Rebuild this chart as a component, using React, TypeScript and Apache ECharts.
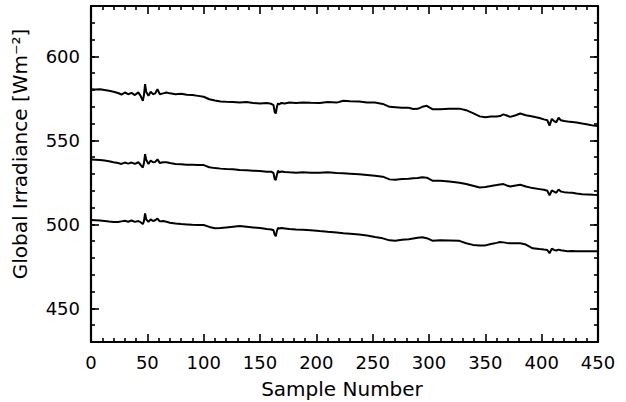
import React, { useEffect, useRef } from "react";
import * as echarts from "echarts";

const samples = [
  0, 4, 8, 12, 16, 20, 24, 27, 30, 33,
  36, 39, 42, 44, 46, 47, 48, 49, 51, 53,
  55, 57, 59, 61, 64, 67, 70, 75, 80, 85,
  90, 95, 100, 105, 110, 115, 120, 126, 132, 138,
  144, 150, 156, 160, 162, 163, 164, 165, 166, 167,
  169, 172, 176, 182, 188, 195, 203, 210, 218, 224,
  230, 238, 245, 252, 259, 265, 270, 276, 282, 286,
  290, 294, 298, 303, 310, 318, 327, 333, 339, 345,
  350, 355, 360, 363, 366, 369, 372, 377, 381, 386,
  392, 398, 402, 405, 407, 409, 411, 413, 415, 417,
  420, 423, 427, 431, 436, 441, 446, 450,
];

const upper = [
  580.5, 580.3, 580.4, 580, 579.5, 579, 578.2, 577.3, 578.5, 577.5,
  578.3, 577, 578.6, 576.5, 573.5, 577, 583.5, 579, 576.5, 579,
  577.5, 578, 580.5, 577.5, 578, 578.5, 578, 577.5, 577.8, 577.2,
  577, 576.5, 576, 574.5, 573.8, 573.2, 573, 572.8, 572.5, 572.8,
  572.3, 572, 572.2, 571.8, 571, 567, 566, 570, 572, 571.5,
  572.3, 572, 572.5, 572.3, 572.6, 572.4, 572.3, 572.8, 572.5, 573.6,
  573.3, 573.2, 572.6, 572.5, 571.7, 570, 569.8, 569.4, 569.4, 568.7,
  568.8, 570, 570.6, 568.6, 568.5, 568.8, 568.9, 568, 566.2, 564.3,
  563.8, 564.2, 564.2, 564.5, 565.5, 564.8, 564, 565, 566, 565,
  564.2, 563.3, 562.5, 562, 558.8, 562.8, 561.5, 560.8, 563.5, 562,
  561.5, 561.2, 561, 560.6, 560, 559.5, 558.8, 558.6,
];

const middle = [
  538.7, 538.5, 538.3, 538, 537.6, 537, 536.5, 536, 536.8, 536.2,
  536.8, 536, 537, 535.5, 533.8, 536.5, 541.8, 538.5, 536, 538,
  537, 537.2, 538.7, 536.6, 537, 537, 536.5, 536, 535.8, 535.5,
  535.5, 535.4, 535.3, 534, 533.5, 533.2, 533, 532.8, 532.4, 532.2,
  532, 531.8, 531.4, 531.4, 530.5, 527, 526.4, 529.5, 532, 531,
  531.5, 531.2, 531, 530.8, 531, 530.8, 530.8, 531, 530.6, 530.4,
  530.2, 529.8, 529.4, 529, 528.4, 526.8, 526.6, 527, 527.2, 527.4,
  527.6, 528, 527.8, 526, 526, 525.5, 524.8, 524, 523, 522,
  522.2, 522.8, 523.4, 523.8, 524, 523.2, 522.6, 523.2, 523.6, 522.6,
  521.6, 521, 520.6, 520, 517.3, 520.2, 519.5, 518.8, 520.8, 519.6,
  519.2, 519, 518.8, 518.4, 518, 517.8, 517.6, 517.5,
];

const lower = [
  502.6, 502.5, 502.3, 502, 501.7, 501.5, 501.4, 501.8, 502.2, 501.6,
  502.3, 501.5, 502, 501.3, 500.2, 502, 506.6, 503, 501.5, 503,
  502, 502.5, 503.5, 501.8, 502, 501.6, 501, 500.5, 500.2, 500,
  499.8, 499.7, 499.6, 498.5, 497.7, 497.8, 498.2, 498.6, 499, 498.6,
  498.2, 497.8, 497.3, 497, 496.5, 494, 493, 496, 498, 497.5,
  497.8, 497.6, 497.3, 497, 496.8, 496.5, 496, 495.6, 495.2, 494.7,
  494.4, 494, 493.4, 492.5, 491.7, 490.5, 490.3, 490.8, 491.2, 491.6,
  492, 492.3, 491.8, 490.3, 490.5, 490.4, 490.2, 488.8, 487.8, 487.4,
  487.5, 488.3, 489, 489.5, 489.3, 489, 488.8, 488.8, 488.8, 488,
  485.8, 485.3, 485, 484.8, 482.8, 485.5, 484.8, 484.5, 485, 484.6,
  484.3, 484, 484.2, 484, 484, 484, 484, 484,
];

// y range shown; major ticks (450, 500, 550, 600) start from Y_MAJOR_MIN
const Y_MIN = 430;
const Y_MAX = 630;
const Y_MAJOR_MIN = 450;

const FONT = "DejaVu Sans";
const INK = "#000";

export default function App() {
  const ref = useRef<HTMLDivElement>(null);

  useEffect(() => {
    if (!ref.current) return;
    const chart = echarts.init(ref.current, null, { renderer: "svg" });
    const toPairs = (vals: number[]) => samples.map((x, i) => [x, vals[i]]);
    const lineSeries = (vals: number[]) => ({
      type: "line",
      data: toPairs(vals),
      showSymbol: false,
      xAxisIndex: 0,
      yAxisIndex: 0,
      lineStyle: { color: INK, width: 2 },
      itemStyle: { color: INK },
    });

    const H = 402;
    const gl = 91, gr = 28, gt = 6, gb = 60;
    const pxPerUnit = (H - gt - gb) / (Y_MAX - Y_MIN);
    const majorBottom = gb + (Y_MAJOR_MIN - Y_MIN) * pxPerUnit;

    const tickStyle = { color: INK, width: 1.6 };
    const xAxis = (pos: string, labels: boolean) => ({
      type: "value",
      gridIndex: 0,
      min: 0,
      max: 450,
      interval: 50,
      position: pos,
      splitLine: { show: false },
      axisLine: { show: true, onZero: false, lineStyle: { color: INK, width: 2.2 } },
      axisTick: { show: true, inside: true, length: 8, lineStyle: tickStyle },
      minorTick: { show: true, splitNumber: 5, length: 4, lineStyle: tickStyle },
      axisLabel: labels
        ? { show: true, color: INK, fontFamily: FONT, fontSize: 18, margin: 11 }
        : { show: false },
    });
    const yMinor = (pos: string) => ({
      type: "value",
      gridIndex: 0,
      min: Y_MIN,
      max: Y_MAX,
      interval: 10,
      position: pos,
      splitLine: { show: false },
      axisLine: { show: true, onZero: false, lineStyle: { color: INK, width: 2.2 } },
      axisTick: { show: true, inside: true, length: 4, lineStyle: tickStyle },
      axisLabel: { show: false },
    });
    const yMajor = (pos: string, labels: boolean) => ({
      type: "value",
      gridIndex: 1,
      min: Y_MAJOR_MIN,
      max: Y_MAX,
      interval: 50,
      position: pos,
      splitLine: { show: false },
      axisLine: { show: false, onZero: false },
      axisTick: { show: true, inside: true, length: 8, lineStyle: tickStyle },
      axisLabel: labels
        ? {
            show: true,
            color: INK,
            fontFamily: FONT,
            fontSize: 18,
            margin: 11,
            formatter: (v: number) => (v % 50 === 0 ? String(v) : ""),
          }
        : { show: false },
    });

    chart.setOption({
      animation: false,
      grid: [
        { left: gl, right: gr, top: gt, bottom: gb, outerBoundsMode: "none" },
        { left: gl, right: gr, top: gt, bottom: majorBottom, outerBoundsMode: "none" },
      ],
      xAxis: [
        xAxis("bottom", true),
        xAxis("top", false),
        { type: "value", gridIndex: 1, min: 0, max: 450, show: false },
      ],
      yAxis: [yMinor("left"), yMinor("right"), yMajor("left", true), yMajor("right", false)],
      series: [lineSeries(upper), lineSeries(middle), lineSeries(lower)],
      graphic: [
        {
          type: "text",
          x: 342,
          y: 389,
          style: {
            text: "Sample Number",
            fontFamily: FONT,
            fontSize: 20,
            fill: INK,
            align: "center",
            verticalAlign: "middle",
          },
        },
        {
          type: "text",
          x: 20,
          y: 154,
          rotation: Math.PI / 2,
          style: {
            text: "Global Irradiance [Wm⁻²]",
            fontFamily: FONT,
            fontSize: 20,
            fill: INK,
            align: "center",
            verticalAlign: "middle",
          },
        },
      ],
    });
    return () => chart.dispose();
  }, []);

  return (
    <div
      ref={ref}
      style={{ position: "fixed", left: 0, top: 0, width: 626, height: 402, background: "#fff" }}
    />
  );
}
